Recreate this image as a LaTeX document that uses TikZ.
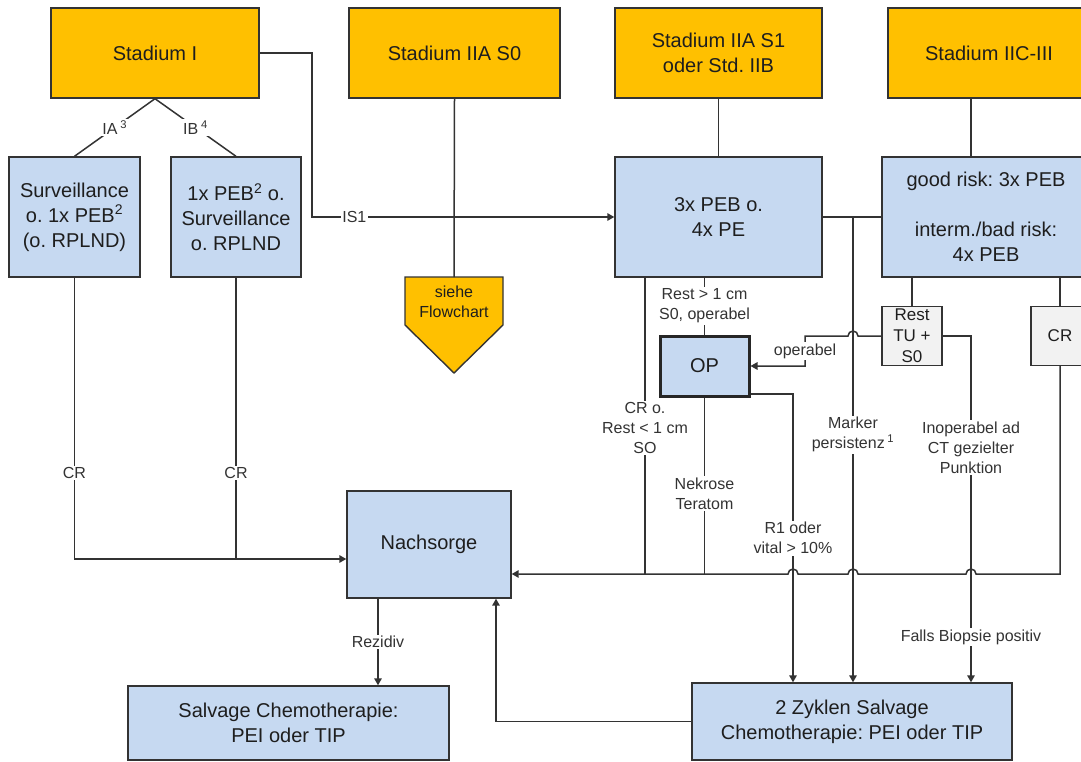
\documentclass[tikz,border=0pt]{standalone}
\usepackage{fontspec}
\setmainfont{Liberation Sans}
\usetikzlibrary{arrows.meta,calc}
\definecolor{orangebox}{HTML}{FFC000}
\definecolor{bluebox}{HTML}{C6D9F1}
\definecolor{graybox}{HTML}{F2F2F2}
\definecolor{linecol}{HTML}{333333}
\definecolor{txtcol}{HTML}{1E1E1E}
\definecolor{lblcol}{HTML}{333333}
\frenchspacing
\begin{document}
\begin{tikzpicture}[x=1pt,y=-1pt,
  box/.style={draw=linecol,line width=1.4pt,inner sep=0pt,align=center,text=txtcol,font=\fontsize{20}{25}\selectfont},
  stbox/.style={box,fill=orangebox},
  bbox/.style={box,fill=bluebox},
  gbox/.style={box,fill=graybox,font=\fontsize{17}{21}\selectfont},
  conn/.style={draw=linecol,line width=1.5pt},
  arr/.style={conn,-{Triangle[length=7pt,width=7.5pt]}},
  lbl/.style={fill=white,inner sep=1.5pt,align=center,text=lblcol,font=\fontsize{16}{20}\selectfont}]
\useasboundingbox (0,0) rectangle (1081,762);
\clip (0,0) rectangle (1081,762);
\fill[white] (0,0) rectangle (1081,762);

% coordinates
\coordinate (ret) at (0,574);
\coordinate (lft) at (0,559);
\coordinate (xis) at (312,217);
\coordinate (x645) at (645,0);
\coordinate (x793) at (793,394);
\coordinate (x853) at (853,217);
\coordinate (x805) at (805,0);
\coordinate (x971) at (971,0);
\coordinate (x496) at (496,0);
\coordinate (x378) at (378,0);
\coordinate (fctop) at (454,277);

% nodes
\node[stbox,minimum width=208pt,minimum height=90pt] (st1) at (155,53) {Stadium I};
\node[stbox,minimum width=211pt,minimum height=90pt] (st2) at (454.5,53) {Stadium IIA S0};
\node[stbox,minimum width=207pt,minimum height=90pt] (st3) at (718.5,53) {Stadium IIA S1\\oder Std. IIB};
\node[stbox,minimum width=202pt,minimum height=90pt] (st4) at (989,53) {Stadium IIC-III};

\node[bbox,minimum width=131pt,minimum height=120pt] (sv) at (74.5,217) {Surveillance\\o. 1x PEB\textsuperscript{2}\\(o. RPLND)};
\node[bbox,minimum width=130pt,minimum height=120pt] (pb) at (236,217) {1x PEB\textsuperscript{2} o.\\Surveillance\\o. RPLND};
\node[bbox,minimum width=207pt,minimum height=120pt] (pe) at (718.5,217) {3x PEB o.\\4x PE};
\node[bbox,minimum width=208pt,minimum height=120pt] (gr) at (986,217) {good risk: 3x PEB\\[25pt]interm./bad risk:\\4x PEB};

\draw[draw=linecol,line width=1.4pt,fill=orangebox] (405,277) -- (503,277) -- (503,325) -- (454,373) -- (405,325) -- cycle;
\node[align=center,text=txtcol,font=\fontsize{16}{20}\selectfont] (fc) at (454,302) {siehe\\Flowchart};

\node[gbox,minimum width=60pt,minimum height=59pt] (rest) at (912,336) {Rest\\TU +\\S0};
\node[gbox,minimum width=58pt,minimum height=59pt] (cr) at (1060,336) {CR};
\node[bbox,line width=3pt,draw=black!85,minimum width=89pt,minimum height=60pt] (op) at (704.5,366) {OP};
\node[bbox,minimum width=164pt,minimum height=107pt] (na) at (429,544.5) {Nachsorge};
\node[bbox,minimum width=321pt,minimum height=74pt] (sc) at (288.5,723) {Salvage Chemotherapie:\\PEI oder TIP};
\node[bbox,minimum width=320pt,minimum height=77pt] (zy) at (852,721.5) {2 Zyklen Salvage\\Chemotherapie: PEI oder TIP};

% connectors
\draw[conn] (st1.south) -- node[lbl]{IA\,\textsuperscript{3}} (sv.north);
\draw[conn] (st1.south) -- node[lbl]{IB\,\textsuperscript{4}} (pb.north);
\draw[arr] (st1.east) -| (xis) -- node[lbl,pos=0.14]{IS1} (pe.west);
\draw[conn] (st2.south) -- (fctop);
\draw[conn] (st3.south) -- (pe.north);
\draw[conn] (st4.south -| x971) -- (gr.north -| x971);
\draw[conn] (pe.east) -- (gr.west);
\draw[arr] (x853) -- node[lbl,pos=0.468]{Marker\\persistenz\,\textsuperscript{1}} (zy.north -| x853);
\draw[conn] (pe.south -| x645) -- node[lbl,pos=0.508]{CR o.\\Rest < 1 cm\\SO} (x645 |- ret);
\draw[conn] (pe.south -| op) -- node[lbl]{Rest > 1 cm\\S0, operabel} (op.north);
\draw[conn] (op.south) -- node[lbl,pos=0.545]{Nekrose\\Teratom} (op.south |- ret);
\draw[arr] (op.east |- x793) -| node[lbl,pos=0.75]{R1 oder\\vital > 10\%} (zy.north -| x793);
\draw[arr] (rest.west) -- ($(x853 |- rest.west)+(5,0)$) arc[start angle=0,end angle=-180,radius=5]
  -- (x805 |- rest.west) -- node[lbl]{operabel} (x805 |- op.east) -- (op.east);
\draw[arr] (rest.east) -| node[lbl,pos=0.661]{Inoperabel ad\\CT gezielter\\Punktion}
  node[lbl,pos=0.935]{Falls Biopsie positiv} (zy.north -| x971);
\draw[conn] (gr.south -| rest) -- (rest.north);
\draw[conn] (gr.south -| cr) -- (cr.north);
\draw[arr] (cr.south) |- ($(x971 |- ret)+(5,0)$) arc[start angle=0,end angle=-180,radius=5]
  -- ($(x853 |- ret)+(5,0)$) arc[start angle=0,end angle=-180,radius=5]
  -- ($(x793 |- ret)+(5,0)$) arc[start angle=0,end angle=-180,radius=5]
  -- (na.east |- ret);
\draw[arr] (zy.west) -| (na.south -| x496);
\draw[arr] (na.south -| x378) -- node[lbl]{Rezidiv} (sc.north -| x378);
\draw[arr] (sv.south) -- node[lbl,pos=0.695]{CR} (sv.south |- lft) -- (na.west |- lft);
\draw[conn] (pb.south) -- node[lbl,pos=0.695]{CR} (pb.south |- lft);
\end{tikzpicture}
\end{document}
